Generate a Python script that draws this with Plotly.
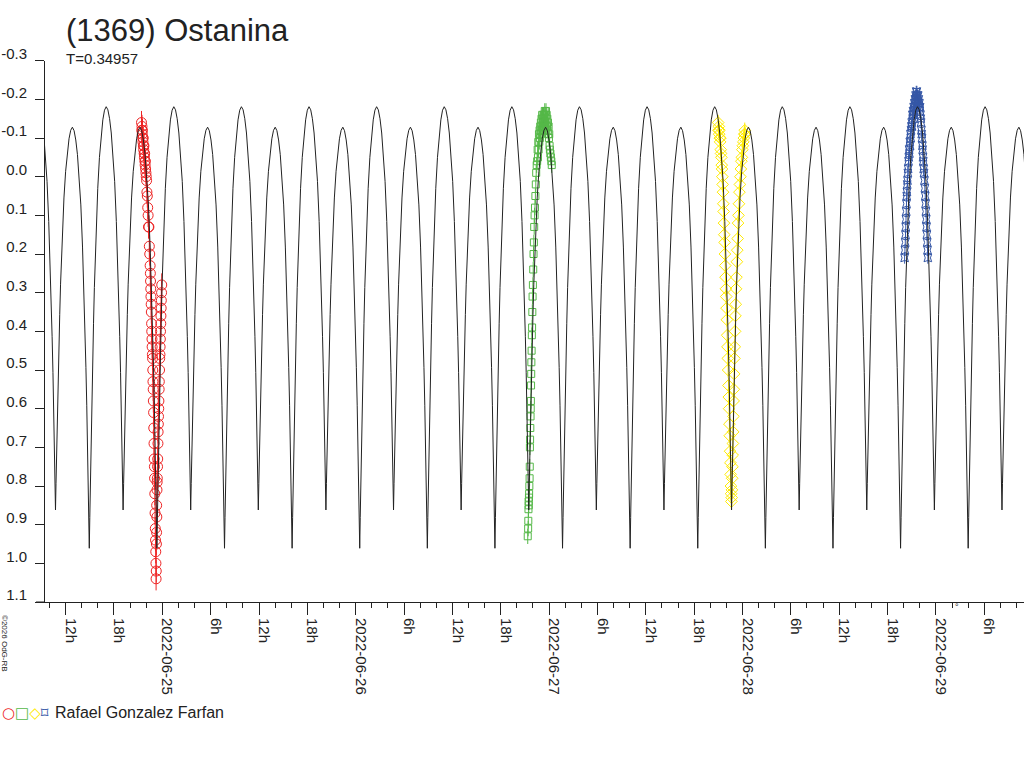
import pandas as pd
import plotly.graph_objects as go

# lightcurve of (1369) Ostanina, June 2022 sessions
TITLE = "(1369) Ostanina"
PERIOD_DAYS = 0.34957
OBSERVER = "Rafael Gonzalez Farfan"

# model curve: one rotation (phase 0 = shallow minimum)
EPOCH = "2022-06-24 10:44:45"
model_phase = [0.0, 0.0075, 0.015, 0.025, 0.0375, 0.05, 0.0625, 0.075,
               0.1, 0.125, 0.15, 0.175, 0.2, 0.225, 0.25,
               0.275, 0.3, 0.325, 0.35, 0.375, 0.4,
               0.425, 0.4375, 0.45, 0.4625, 0.475, 0.485, 0.4925, 0.5,
               0.5075, 0.515, 0.525, 0.5375, 0.55, 0.5625, 0.575,
               0.6, 0.625, 0.65, 0.675, 0.7, 0.725, 0.75,
               0.775, 0.8, 0.825, 0.85, 0.875, 0.9,
               0.925, 0.9375, 0.95, 0.9625, 0.975, 0.985, 0.9925]
model_mag = [0.862, 0.793, 0.723, 0.634, 0.525, 0.436, 0.357, 0.278,
             0.154, 0.055, -0.014, -0.064, -0.098, -0.120, -0.128,
             -0.119, -0.095, -0.057, -0.003, 0.073, 0.182,
             0.318, 0.406, 0.493, 0.591, 0.711, 0.809, 0.885, 0.961,
             0.881, 0.801, 0.698, 0.573, 0.470, 0.379, 0.287,
             0.144, 0.030, -0.050, -0.107, -0.147, -0.172, -0.181,
             -0.173, -0.150, -0.113, -0.061, 0.012, 0.116,
             0.247, 0.330, 0.414, 0.507, 0.622, 0.716, 0.789]

# observations, time in hours after 2022-06-24 00:00 UT
T0 = "2022-06-24"
red_hours = [21.42, 21.45, 21.48, 21.51, 21.54, 21.57, 21.60, 21.63, 21.66, 21.69,
             21.72, 21.75, 21.78, 21.81, 21.84, 21.87, 21.90, 21.93, 21.97, 22.01,
             22.05, 22.09, 22.14, 22.19, 22.24, 22.29, 22.34, 22.39, 22.44, 22.49,
             22.52, 22.54, 22.57, 22.59, 22.62, 22.64, 22.67, 22.69, 22.72, 22.74,
             22.77, 22.79, 22.82, 22.84, 22.87, 22.89, 22.92, 22.94, 22.97, 22.99,
             23.02, 23.04, 23.07, 23.10, 23.13, 23.16, 23.19, 23.21, 23.23, 23.25,
             23.27, 23.29, 23.30, 23.32, 23.34, 23.36, 23.38, 23.41, 23.43, 23.46,
             23.48, 23.51, 23.53, 23.56, 23.58, 23.61, 23.63, 23.66, 23.68, 23.71,
             23.73, 23.76, 23.78, 23.81, 23.83, 23.86, 23.88, 23.91, 23.93]
red_mag = [-0.14, -0.12, -0.13, -0.11, -0.12, -0.10, -0.09, -0.10, -0.08, -0.07,
           -0.08, -0.06, -0.05, -0.06, -0.04, -0.03, -0.04, -0.02, -0.01, 0.00,
           0.01, 0.04, 0.05, 0.08, 0.10, 0.13, 0.13, 0.18, 0.20, 0.23,
           0.25, 0.27, 0.29, 0.31, 0.33, 0.35, 0.38, 0.40, 0.42, 0.44,
           0.46, 0.47, 0.50, 0.53, 0.55, 0.58, 0.61, 0.65, 0.69, 0.73,
           0.75, 0.78, 0.82, 0.87, 0.91, 0.94, 0.97, 1.00, 1.04, 1.02,
           0.95, 0.92, 0.85, 0.88, 0.81, 0.79, 0.78, 0.75, 0.73, 0.69,
           0.66, 0.64, 0.62, 0.60, 0.58, 0.55, 0.53, 0.50, 0.47, 0.46,
           0.44, 0.42, 0.40, 0.38, 0.36, 0.34, 0.32, 0.30, 0.28]

green_hours = [69.35, 69.40, 69.42, 69.44, 69.46, 69.48, 69.50, 69.52, 69.55, 69.58,
               69.60, 69.62, 69.64, 69.67, 69.70, 69.72, 69.74, 69.76, 69.78, 69.80,
               69.83, 69.86, 69.89, 69.92, 69.95, 69.99, 70.03, 70.07, 70.11, 70.15,
               70.20, 70.25, 70.30, 70.35, 70.40, 70.46, 70.52, 70.58,
               70.62, 70.66, 70.70, 70.74, 70.78, 70.82, 70.86, 70.90, 70.94, 70.98,
               71.02, 71.06, 71.10, 71.14, 71.18, 71.22, 71.26, 71.30, 71.34, 71.38,
               71.42, 71.46, 71.50, 71.54, 71.58, 71.62, 71.66, 71.70, 71.74, 71.78,
               71.82, 71.86, 71.90, 71.94, 71.98, 72.02, 72.06, 72.10,
               72.16, 72.22, 72.28, 72.33]
green_mag = [0.93, 0.91, 0.89, 0.86, 0.84, 0.85, 0.83, 0.82, 0.80, 0.78,
             0.75, 0.70, 0.68, 0.65, 0.62, 0.60, 0.58, 0.54, 0.51, 0.48,
             0.45, 0.41, 0.39, 0.35, 0.31, 0.28, 0.24, 0.20, 0.17, 0.13,
             0.10, 0.08, 0.05, 0.02, -0.01, -0.03, -0.04, -0.07,
             -0.05, -0.09, -0.07, -0.11, -0.09, -0.12, -0.10, -0.13, -0.11, -0.14,
             -0.12, -0.15, -0.13, -0.16, -0.12, -0.15, -0.14, -0.16, -0.13, -0.16,
             -0.14, -0.17, -0.14, -0.16, -0.13, -0.17, -0.15, -0.16, -0.13, -0.15,
             -0.12, -0.14, -0.11, -0.13, -0.10, -0.11, -0.08, -0.07,
             -0.06, -0.05, -0.04, -0.03]

yellow_hours = [92.98, 93.02, 93.06, 93.10, 93.14, 93.18, 93.22, 93.26, 93.30, 93.34,
                93.38, 93.42, 93.46, 93.50, 93.54, 93.58, 93.62, 93.66, 93.70, 93.74,
                93.78, 93.82, 93.86, 93.90, 93.94, 93.98, 94.02, 94.06, 94.10, 94.14,
                94.18, 94.22, 94.26, 94.30, 94.34, 94.38, 94.42, 94.46, 94.50, 94.53,
                94.56, 94.59, 94.62,
                94.66, 94.69, 94.72, 94.75, 94.78, 94.81, 94.84, 94.87, 94.90, 94.93,
                94.96, 95.00, 95.04, 95.08, 95.12, 95.16, 95.20, 95.25, 95.30, 95.35,
                95.40, 95.45, 95.50, 95.56, 95.62, 95.68, 95.74, 95.80, 95.86, 95.92,
                95.98, 96.04, 96.10, 96.16, 96.22, 96.28, 96.32]
yellow_mag = [-0.14, -0.12, -0.13, -0.11, -0.12, -0.10, -0.09, -0.10, -0.07, -0.06,
              -0.05, -0.03, -0.02, 0.00, 0.02, 0.04, 0.07, 0.09, 0.12, 0.15,
              0.17, 0.20, 0.23, 0.26, 0.29, 0.31, 0.34, 0.37, 0.41, 0.44,
              0.47, 0.50, 0.54, 0.57, 0.60, 0.64, 0.67, 0.71, 0.74, 0.77,
              0.80, 0.82, 0.84,
              0.83, 0.81, 0.78, 0.75, 0.72, 0.69, 0.66, 0.62, 0.58, 0.55,
              0.51, 0.47, 0.44, 0.40, 0.36, 0.33, 0.29, 0.26, 0.22, 0.19,
              0.16, 0.12, 0.10, 0.07, 0.04, 0.02, 0.00, -0.02, -0.04, -0.05,
              -0.07, -0.08, -0.09, -0.10, -0.11, -0.12, -0.11]

blue_hours = [116.12, 116.16, 116.20, 116.23, 116.26, 116.29, 116.32, 116.35, 116.38, 116.41,
              116.44, 116.48, 116.52, 116.56, 116.60, 116.64, 116.68, 116.72, 116.76, 116.80,
              116.84, 116.88, 116.92, 116.96, 117.00, 117.04, 117.08, 117.12, 117.16, 117.20,
              117.24, 117.28, 117.32, 117.36, 117.40, 117.44, 117.48, 117.52, 117.56, 117.60,
              117.64, 117.68, 117.72, 117.76, 117.80, 117.84, 117.88, 117.92, 117.96, 118.00,
              118.04, 118.08, 118.12, 118.16, 118.20, 118.24, 118.28, 118.32, 118.36, 118.40,
              118.44, 118.48, 118.53, 118.58, 118.63, 118.68, 118.72, 118.76, 118.80, 118.84,
              118.88, 118.92, 118.96, 119.00]
blue_mag = [0.21, 0.19, 0.17, 0.15, 0.13, 0.11, 0.09, 0.07, 0.05, 0.04,
            0.02, 0.01, -0.01, -0.02, -0.04, -0.05, -0.07, -0.06, -0.09, -0.08,
            -0.11, -0.10, -0.12, -0.13, -0.14, -0.13, -0.16, -0.15, -0.17, -0.16,
            -0.18, -0.17, -0.19, -0.18, -0.20, -0.19, -0.21, -0.20, -0.22, -0.21,
            -0.22, -0.20, -0.21, -0.19, -0.21, -0.19, -0.20, -0.18, -0.19, -0.17,
            -0.18, -0.16, -0.15, -0.14, -0.12, -0.11, -0.10, -0.08, -0.07, -0.05,
            -0.04, -0.02, -0.01, 0.01, 0.03, 0.05, 0.07, 0.09, 0.11, 0.13,
            0.15, 0.17, 0.19, 0.21]

# typical error per session
red_err = 0.03
green_err = 0.02
yellow_err = 0.02
blue_err = 0.015

x_tick_times = ["2022-06-24 12:00", "2022-06-24 18:00",
                "2022-06-25 00:00", "2022-06-25 06:00", "2022-06-25 12:00", "2022-06-25 18:00",
                "2022-06-26 00:00", "2022-06-26 06:00", "2022-06-26 12:00", "2022-06-26 18:00",
                "2022-06-27 00:00", "2022-06-27 06:00", "2022-06-27 12:00", "2022-06-27 18:00",
                "2022-06-28 00:00", "2022-06-28 06:00", "2022-06-28 12:00", "2022-06-28 18:00",
                "2022-06-29 00:00", "2022-06-29 06:00"]
x_tick_labels = ["12h", "18h",
                 "2022-06-25", "6h", "12h", "18h",
                 "2022-06-26", "6h", "12h", "18h",
                 "2022-06-27", "6h", "12h", "18h",
                 "2022-06-28", "6h", "12h", "18h",
                 "2022-06-29", "6h"]
y_tick_vals = [-0.3, -0.2, -0.1, 0.0, 0.1, 0.2, 0.3, 0.4, 0.5, 0.6, 0.7, 0.8, 0.9, 1.0, 1.1]
y_tick_labels = ["-0.3", "-0.2", "-0.1", "0.0", "0.1", "0.2", "0.3", "0.4",
                 "0.5", "0.6", "0.7", "0.8", "0.9", "1.0", "1.1"]

X_START = "2022-06-24 09:26:38"
X_END = "2022-06-29 10:56:00"

RED = "#EE2424"
GREEN = "#55B848"
YELLOW = "#FFEB00"
BLUE = "#3456A6"
INK = "#222222"
FONT = "Liberation Sans, Arial, sans-serif"


def to_time(hours):
    return pd.Timestamp(T0) + pd.to_timedelta(hours, unit="h")


# repeat the read cycle with the period given on the chart
period = pd.Timedelta(days=PERIOD_DAYS)
model_t, model_y = [], []
for cycle in range(-2, 16):
    for ph, m in zip(model_phase, model_mag):
        model_t.append(pd.Timestamp(EPOCH) + period * (cycle + ph))
        model_y.append(m)

sessions = [
    (red_hours, red_mag, red_err, RED, "circle-open", 10),
    (green_hours, green_mag, green_err, GREEN, "square-open", 7),
    (yellow_hours, yellow_mag, yellow_err, YELLOW, "diamond-open", 9),
    (blue_hours, blue_mag, blue_err, BLUE, "star-square-open", 7),
]

fig = go.Figure()
for hrs, mag, err, col, sym, size in sessions:
    fig.add_trace(go.Scatter(
        x=to_time(hrs), y=mag, mode="markers",
        marker=dict(symbol=sym, size=size, color=col, line=dict(width=1, color=col)),
        error_y=dict(type="constant", value=err, thickness=1, width=0, color=col),
        name=OBSERVER, hoverinfo="x+y",
    ))

fig.add_trace(go.Scatter(
    x=model_t, y=model_y, mode="lines",
    line=dict(color=INK, width=1), hoverinfo="skip",
))

axis_common = dict(showgrid=False, zeroline=False, showline=True, linecolor=INK,
                   linewidth=1, ticks="outside", tickcolor=INK, automargin=False,
                   tickfont=dict(family=FONT, size=15, color=INK))


def note(text, x, y, size, **kw):
    # text placed in figure pixels (margins are zero)
    d = dict(text=text, x=x / 1024, y=1 - y / 768, xref="paper", yref="paper",
             xanchor="left", yanchor="middle", showarrow=False,
             font=dict(family=FONT, size=size, color=INK))
    d.update(kw)
    return d


fig.update_layout(
    width=1024, height=768,
    margin=dict(l=0, r=0, t=0, b=0, autoexpand=False),
    paper_bgcolor="white", plot_bgcolor="white",
    showlegend=False,
    font=dict(family=FONT, color=INK),
    xaxis=dict(
        axis_common, type="date", domain=[45 / 1024, 1], range=[X_START, X_END],
        tickmode="array", tickvals=x_tick_times, ticktext=x_tick_labels,
        tickangle=90, ticklen=12, ticklabelshift=5,
        minor=dict(tickmode="linear", tick0="2022-06-24", dtick=2 * 3600 * 1000,
                   ticks="outside", ticklen=5, tickcolor=INK),
    ),
    yaxis=dict(
        axis_common, domain=[166 / 768, 707.3 / 768], range=[1.1, -0.3],
        tickmode="array", tickvals=y_tick_vals, ticktext=y_tick_labels,
        ticklen=9, ticklabelshift=7, ticklabelstandoff=5,
    ),
    # x axis line runs on a little past the y axis
    shapes=[dict(type="line", xref="paper", yref="paper",
                 x0=36 / 1024, x1=45 / 1024, y0=166 / 768, y1=166 / 768,
                 line=dict(color=INK, width=1))],
    annotations=[
        note(TITLE, 64, 30, 31),
        note("T=%.5f" % PERIOD_DAYS, 64, 58, 15),
        note(("<span style='color:%s'>○</span><span style='color:%s'>□</span>"
              "<span style='color:%s'>◇</span><span style='color:%s'>⌑</span>")
             % (RED, GREEN, YELLOW, BLUE), 0, 713, 15,
             font=dict(family="DejaVu Sans", size=15)),
        note(OBSERVER, 53, 712, 16),
        note("©2026 OdG-RB", 5, 643, 8, textangle=90, xanchor="center"),
        note("°", 957, 607, 9, xanchor="center"),
    ],
)

fig.write_html("out.html", config={"displayModeBar": False},
               post_script="document.body.style.margin='0';"
                           "document.body.style.overflow='hidden';")
